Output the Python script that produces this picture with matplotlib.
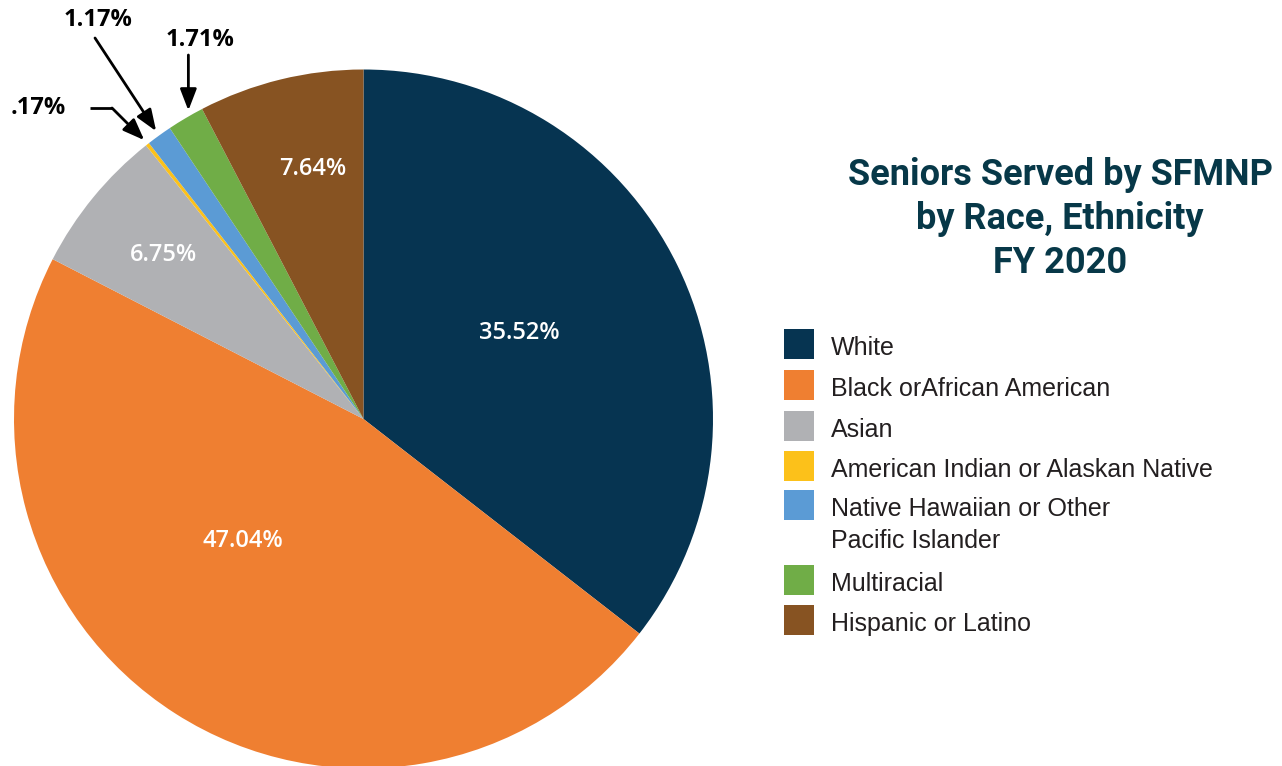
"""
seniors_pie.py
Seniors served by SFMNP by race / ethnicity, FY 2020
"""
import numpy as np
import matplotlib.pyplot as plt
from matplotlib.patches import Rectangle

groups = ['White', 'Black orAfrican American', 'Asian',
          'American Indian or Alaskan Native',
          'Native Hawaiian or Other\nPacific Islander',
          'Multiracial', 'Hispanic or Latino']
shares = [35.52, 47.04, 6.75, 0.17, 1.17, 1.71, 7.64]
share_text = ['35.52%', '47.04%', '6.75%', '.17%', '1.17%', '1.71%', '7.64%']
colors = ['#063451', '#ef7f31', '#b0b1b4', '#fcc11a', '#5b9bd5', '#70ad47', '#875322']

W, H = 1282, 766
cx, cy, R = 363.5, 347, 349.5

fig = plt.figure(figsize=(W / 100, H / 100), dpi=100)
ax = fig.add_axes([0, 0, 1, 1])
wedges, _ = ax.pie(shares, colors=colors, startangle=90, counterclock=False,
                   center=(cx, cy), radius=R,
                   wedgeprops={'linewidth': 0, 'edgecolor': 'none'})
ax.set_xlim(0, W)
ax.set_ylim(0, H)
ax.axis('off')

# labels inside the big slices: (radius fraction, angle shift in degrees)
inside = {0: (0.51, 2.7), 1: (0.49, -12.0), 2: (0.74, 0.0), 6: (0.73, -2.2)}
for i, (rf, shift) in inside.items():
    w = wedges[i]
    mid = np.deg2rad((w.theta1 + w.theta2) / 2 + shift)
    ax.text(cx + rf * R * np.cos(mid), cy + rf * R * np.sin(mid), share_text[i],
            color='white', fontsize=17, fontfamily='Open Sans', fontweight='semibold',
            ha='center', va='center')

# callouts for the thin slices:
# text position, arrow tail (x None = straight down), elbow, tip angle shift
callouts = {3: ((38, 108), (112, 108), (90, 108), 0.0),
            4: ((98, 20), (95, 38), None, 0.0),
            5: ((200, 40), (None, 55), None, -1.0)}
for i, (tpos, tail, elbow, shift) in callouts.items():
    w = wedges[i]
    mid = np.deg2rad((w.theta1 + w.theta2) / 2 + shift)
    tip = (cx + 1.015 * R * np.cos(mid), cy + 1.015 * R * np.sin(mid))
    tx = tip[0] if tail[0] is None else tail[0]
    ax.text(tpos[0], H - tpos[1], share_text[i], color='black', fontsize=17,
            fontfamily='Open Sans', fontweight='bold', ha='center', va='center')
    if elbow is not None:
        ax.plot([elbow[0], tx], [H - elbow[1], H - tail[1]], color='black', lw=2,
                solid_capstyle='butt')
    ax.annotate('', xy=tip, xytext=(tx, H - tail[1]),
                arrowprops=dict(arrowstyle='-|>,head_length=1.3,head_width=0.5',
                                color='black', lw=2, shrinkA=0, shrinkB=0))

title = 'Seniors Served by SFMNP\nby Race, Ethnicity\nFY 2020'
ax.text(1060, H - 219, title, color='#073848', fontsize=26, fontfamily='Roboto',
        fontweight='bold', ha='center', va='center', linespacing=1.27)

# legend drawn by hand so the two-line entry lines up at its first row
box_tops = [329, 370, 411, 451, 490, 565, 605]
for top, name, col in zip(box_tops, groups, colors):
    ax.add_patch(Rectangle((784, H - top - 30), 30, 30, color=col, lw=0))
    for k, line in enumerate(name.split('\n')):
        ax.text(831, H - top - 26 - 32 * k, line, color='#231f20', fontsize=18,
                fontfamily='Liberation Sans', ha='left', va='baseline')

plt.savefig('out.png', dpi=100)
